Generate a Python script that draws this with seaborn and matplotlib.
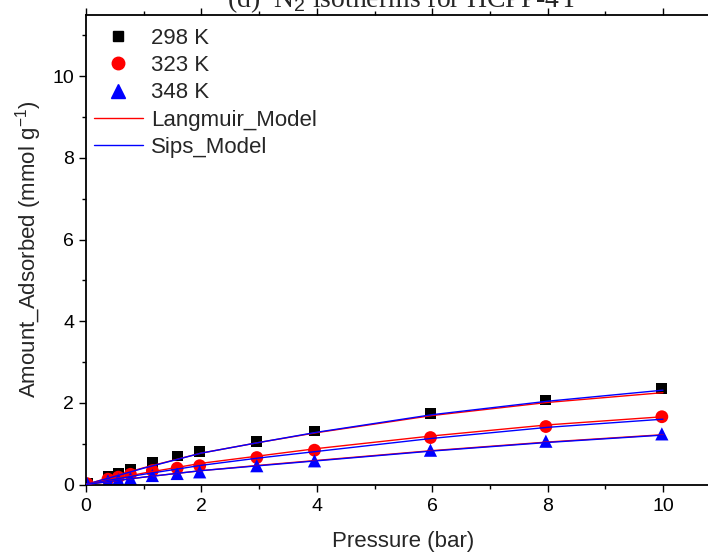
import numpy as np
import pandas as pd
import matplotlib
matplotlib.use("Agg")
import matplotlib.pyplot as plt
import seaborn as sns
from matplotlib.lines import Line2D
from matplotlib.ticker import MultipleLocator

# ---- data ----
pressure = [0.02, 0.38, 0.56, 0.77, 1.15, 1.58, 1.97, 2.96, 3.96, 5.97, 7.97, 9.98]
q_298 = [0.03, 0.20, 0.28, 0.38, 0.54, 0.70, 0.81, 1.06, 1.31, 1.74, 2.07, 2.36]
q_323 = [0.02, 0.13, 0.18, 0.25, 0.34, 0.40, 0.46, 0.66, 0.84, 1.15, 1.42, 1.66]
q_348 = [0.02, 0.09, 0.12, 0.15, 0.22, 0.27, 0.31, 0.46, 0.58, 0.84, 1.06, 1.24]

model_p = [0, 0.5, 1, 2, 3, 4, 6, 8, 10]
langmuir_298 = [0, 0.21, 0.41, 0.77, 1.03, 1.27, 1.69, 2.01, 2.25]
sips_298 = [0, 0.20, 0.40, 0.77, 1.03, 1.28, 1.71, 2.04, 2.31]
langmuir_323 = [0, 0.14, 0.28, 0.52, 0.70, 0.88, 1.19, 1.46, 1.66]
sips_323 = [0, 0.13, 0.25, 0.47, 0.65, 0.81, 1.13, 1.40, 1.60]
langmuir_348 = [0, 0.09, 0.18, 0.34, 0.47, 0.59, 0.83, 1.04, 1.22]
sips_348 = [0, 0.09, 0.18, 0.34, 0.46, 0.58, 0.82, 1.03, 1.21]

series_labels = ["298 K", "323 K", "348 K"]
model_labels = ["Langmuir_Model", "Sips_Model"]
title = "(d)  N$_2$ isotherms for HCPP-4Y"

sns.set_theme(style="white")
plt.rcParams["font.family"] = ["Liberation Sans", "DejaVu Sans"]
plt.rcParams["mathtext.fontset"] = "custom"
plt.rcParams["mathtext.rm"] = "Liberation Sans"
plt.rcParams["mathtext.it"] = "Liberation Sans:italic"

fig = plt.figure(figsize=(7.08, 5.54), dpi=100)
W, H = 708, 554
x0px, x1px = 86, 86 + 11 * 57.7
y0px, ytoppx = 484.5, 15
ax = fig.add_axes([x0px / W, 1 - y0px / H, (x1px - x0px) / W, (y0px - ytoppx) / H])

pts = pd.DataFrame({"P": pressure * 3,
                    "q": q_298 + q_323 + q_348,
                    "T": [series_labels[0]] * len(pressure) + [series_labels[1]] * len(pressure) + [series_labels[2]] * len(pressure)})

mdl = pd.DataFrame({
    "P": model_p * 6,
    "q": langmuir_298 + langmuir_323 + langmuir_348 + sips_298 + sips_323 + sips_348,
    "curve": (["L298"] * 9 + ["L323"] * 9 + ["L348"] * 9 + ["S298"] * 9 + ["S323"] * 9 + ["S348"] * 9),
})

colors = {"298 K": "black", "323 K": "#ff0000", "348 K": "#0000ff"}
markers = {"298 K": "s", "323 K": "o", "348 K": "^"}
sizes = {"298 K": 60, "323 K": 85, "348 K": 90}

for lab in series_labels:
    d = pts[pts["T"] == lab]
    sns.scatterplot(data=d, x="P", y="q", color=colors[lab], marker=markers[lab],
                    s=sizes[lab], edgecolor="none", ax=ax, legend=False, zorder=2)

curve_colors = {"L": "#ff0000", "S": "#0000ff"}
for cname in ["L298", "S298", "L323", "S323", "L348", "S348"]:
    d = mdl[mdl["curve"] == cname]
    sns.lineplot(data=d, x="P", y="q", color=curve_colors[cname[0]], linewidth=1.0,
                 ax=ax, legend=False, zorder=3, sort=False)

ax.set_xlim(0, 11)
ax.set_ylim(0, 11.5)
ax.xaxis.set_major_locator(MultipleLocator(2))
ax.xaxis.set_minor_locator(MultipleLocator(1))
ax.yaxis.set_major_locator(MultipleLocator(2))
ax.yaxis.set_minor_locator(MultipleLocator(1))
ax.tick_params(which="both", direction="out", top=True, right=False, bottom=True, left=True,
               width=1.0, colors="black", labelsize=14)
ax.tick_params(which="major", length=5)
ax.tick_params(which="minor", length=3)
ax.tick_params(axis="x", which="both", labeltop=False, pad=5)
for sp in ax.spines.values():
    sp.set_linewidth(1.3)
    sp.set_color("black")
ax.spines["right"].set_visible(False)

ax.set_xlabel("Pressure (bar)", fontsize=16, labelpad=11)
ax.set_ylabel("Amount_Adsorbed (mmol g$^{-1}$)", fontsize=16, labelpad=6)
ax.set_title(title, fontsize=20, family=["Liberation Serif", "DejaVu Serif"], pad=4)

handles = [
    Line2D([], [], linestyle="none", marker="s", color="black", markersize=7.5),
    Line2D([], [], linestyle="none", marker="o", color="#ff0000", markersize=9),
    Line2D([], [], linestyle="none", marker="^", color="#0000ff", markersize=9.5),
    Line2D([], [], color="#ff0000", linewidth=1.0),
    Line2D([], [], color="#0000ff", linewidth=1.0),
]
ax.legend(handles, series_labels + model_labels, loc="upper left",
          bbox_to_anchor=(8 / (x1px - x0px), 1 - 13 / (y0px - ytoppx)),
          frameon=False, fontsize=16, borderpad=0, borderaxespad=0,
          labelspacing=0.28, handlelength=2.2, handletextpad=0.35)

fig.savefig("out.png", dpi=100)
